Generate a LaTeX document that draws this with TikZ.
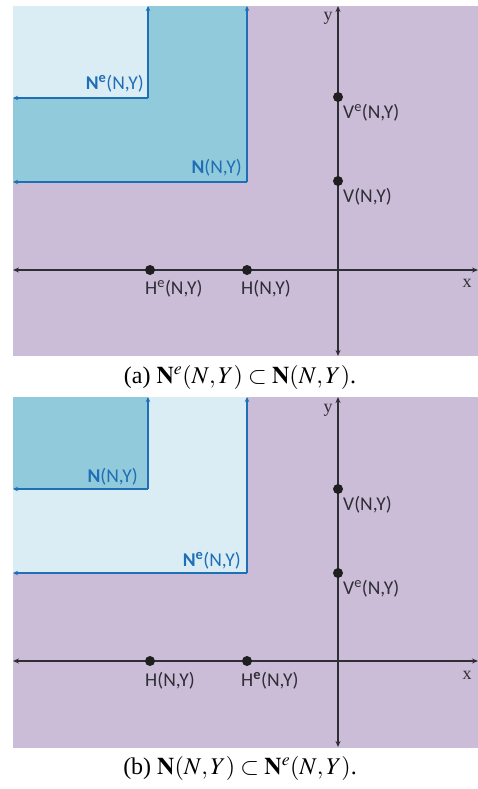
\documentclass[tikz,border=0pt]{standalone}
\usepackage{mathptmx}
\usepackage{fontspec}
\setmainfont{Liberation Serif}
\newfontfamily\labfont{Carlito}
\usetikzlibrary{arrows.meta}
\definecolor{bgpurple}{HTML}{CBBDD7}
\definecolor{lightblue}{HTML}{DAEDF4}
\definecolor{midblue}{HTML}{90CADB}
\definecolor{lineblue}{HTML}{1F6EB6}
\definecolor{axisgray}{HTML}{2F2D35}
\tikzset{
  blueline/.style={draw=lineblue, line width=1.3pt, -{Stealth[length=5pt,width=4.5pt]}},
  axisline/.style={draw=axisgray, line width=1.6pt, {Stealth[length=6pt,width=5pt]}-{Stealth[length=6pt,width=5pt]}},
  dot/.style={circle, fill=black!88, inner sep=0pt, minimum size=10pt},
  ptlabel/.style={font=\labfont\fontsize{19.5}{22}\selectfont, text=axisgray, inner sep=0pt},
  setlabel/.style={font=\labfont\fontsize{19.5}{22}\selectfont, text=lineblue, inner sep=0pt, anchor=east},
  axlabel/.style={font=\fontsize{18}{20}\selectfont, text=axisgray, inner sep=0pt},
  caption/.style={font=\fontsize{24}{28}\selectfont, inner sep=0pt}
}
\begin{document}
\begin{tikzpicture}[x=1pt,y=-1pt]
\useasboundingbox (0,0) rectangle (478,789);
% ================= panel (a) =================
\begin{scope}
  \fill[bgpurple] (13,6) rectangle (478,356);
  \fill[midblue] (13,6) rectangle (247,182);
  \fill[lightblue] (13,6) rectangle (148,98);
  \coordinate (aNc) at (247,182);
  \coordinate (aNt) at (247,6);
  \coordinate (aNl) at (13,182);
  \coordinate (aEc) at (148,98);
  \coordinate (aEt) at (148,6);
  \coordinate (aEl) at (13,98);
  \draw[blueline] (aEc) -- (aEt);
  \draw[blueline] (aEc) -- (aEl);
  \draw[blueline] (aNc) -- (aNt);
  \draw[blueline] (aNc) -- (aNl);
  \node[setlabel] (aEtxt) at (144,84) {\textbf{N}\textsuperscript{\textbf{e}}(N,Y)};
  \node[setlabel] (aNtxt) at (242,168) {\textbf{N}(N,Y)};
  % axes
  \coordinate (axL) at (13,270);
  \coordinate (axR) at (478,270);
  \coordinate (ayT) at (338,6);
  \coordinate (ayB) at (338,356);
  \draw[axisline] (axL) -- (axR);
  \draw[axisline] (ayB) -- (ayT);
  \node[axlabel] (ax) at (467,283) {x};
  \node[axlabel] (ay) at (328,18) {y};
  % points
  \node[dot] (aVe) at (338,97) {};
  \node[dot] (aV) at (338,181) {};
  \node[dot] (aHe) at (150,270) {};
  \node[dot] (aH) at (247,270) {};
  \node[ptlabel, anchor=west] (aVetxt) at (343,113) {V\textsuperscript{e}(N,Y)};
  \node[ptlabel, anchor=west] (aVtxt) at (343,197) {V(N,Y)};
  \node[ptlabel, anchor=west] (aHetxt) at (145,289) {H\textsuperscript{e}(N,Y)};
  \node[ptlabel, anchor=west] (aHtxt) at (241,289) {H(N,Y)};
  \node[caption] (capa) at (240,377) {(a) $\mathbf{N}^e(N,Y) \subset \mathbf{N}(N,Y)$.};
\end{scope}
% ================= panel (b) =================
\begin{scope}[shift={(0,391)}]
  \fill[bgpurple] (13,6) rectangle (478,357);
  \fill[lightblue] (13,6) rectangle (247,182);
  \fill[midblue] (13,6) rectangle (148,98);
  \coordinate (bEc) at (247,182);
  \coordinate (bEt) at (247,6);
  \coordinate (bEl) at (13,182);
  \coordinate (bNc) at (148,98);
  \coordinate (bNt) at (148,6);
  \coordinate (bNl) at (13,98);
  \draw[blueline] (bNc) -- (bNt);
  \draw[blueline] (bNc) -- (bNl);
  \draw[blueline] (bEc) -- (bEt);
  \draw[blueline] (bEc) -- (bEl);
  \node[setlabel] (bNtxt) at (138,86) {\textbf{N}(N,Y)};
  \node[setlabel] (bEtxt) at (241,170) {\textbf{N}\textsuperscript{\textbf{e}}(N,Y)};
  % axes
  \coordinate (bxL) at (13,270);
  \coordinate (bxR) at (478,270);
  \coordinate (byT) at (338,6);
  \coordinate (byB) at (338,356);
  \draw[axisline] (bxL) -- (bxR);
  \draw[axisline] (byB) -- (byT);
  \node[axlabel] (bx) at (467,284) {x};
  \node[axlabel] (by) at (328,19) {y};
  % points
  \node[dot] (bV) at (338,98) {};
  \node[dot] (bVe) at (338,182) {};
  \node[dot] (bH) at (150,270) {};
  \node[dot] (bHe) at (247,270) {};
  \node[ptlabel, anchor=west] (bVtxt) at (343,114) {V(N,Y)};
  \node[ptlabel, anchor=west] (bVetxt) at (343,198) {V\textsuperscript{e}(N,Y)};
  \node[ptlabel, anchor=west] (bHtxt) at (145,290) {H(N,Y)};
  \node[ptlabel, anchor=west] (bHetxt) at (241,290) {H\textsuperscript{\textbf{e}}(N,Y)};
  \node[caption] (capb) at (240,377) {(b) $\mathbf{N}(N,Y) \subset \mathbf{N}^e(N,Y)$.};
\end{scope}
\end{tikzpicture}
\end{document}
